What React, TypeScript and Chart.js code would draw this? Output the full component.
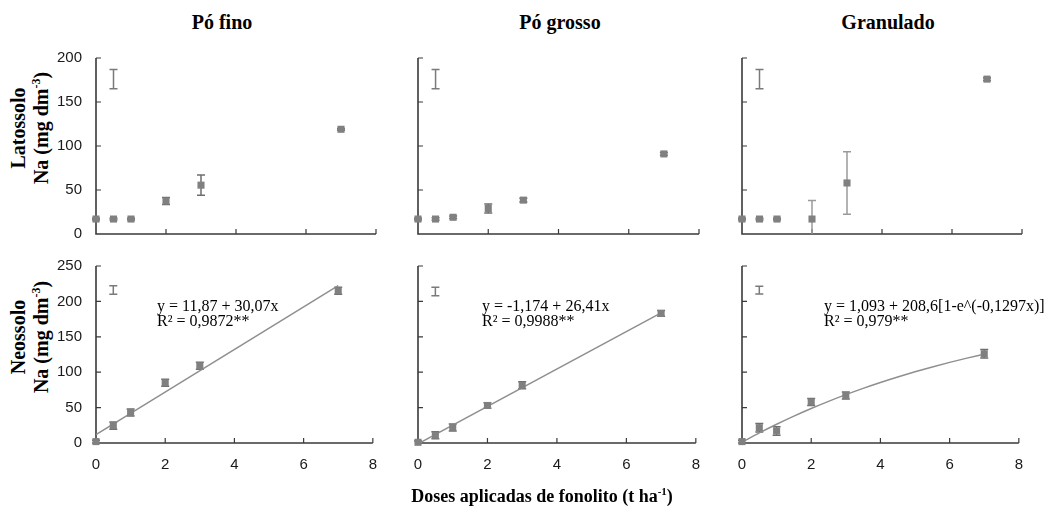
import React, { useEffect, useRef } from "react";
import { Chart, registerables } from "chart.js";
Chart.register(...registerables);

// ---------- data ----------
const doses = [0, 0.5, 1, 2, 3, 7];
const columnTitles = ["Pó fino", "Pó grosso", "Granulado"];

const latPoFino = [17, 17, 17, 37.5, 55.5, 119];
const latPoFinoErr = [1, 1, 1, 4, 11.5, 1];
const latPoGrosso = [17, 17, 19, 29, 38.5, 91];
const latPoGrossoErr = [1, 1.5, 1.5, 5, 2, 1.5];
const latGranulado = [17, 17, 17, 17, 58, 176];
const latGranuladoErr = [1, 1, 1, 21, 35.5, 1.5];

const neoPoFino = [2, 24.5, 43, 85, 109, 215];
const neoPoFinoErr = [2, 5, 5, 5, 5, 5];
const neoPoGrosso = [1, 11, 22, 53, 81.5, 183];
const neoPoGrossoErr = [2, 5, 5, 4, 5, 4];
const neoGranulado = [2, 21.6, 17, 58, 67, 126];
const neoGranuladoErr = [2, 6, 6, 5, 5, 6];

// least significant difference bars (drawn at x = 0.5)
const lsdX = 0.5;
const lsdLat = [176, 176, 176];
const lsdLatHalf = [11, 11, 11];
const lsdNeo = [216, 214, 216];
const lsdNeoHalf = [6, 6, 5.5];

// fitted curves (read from the equations shown)
const fitPoFinoX = [0, 7];
const fitPoFinoY = [11.87, 222.36];
const fitPoGrossoX = [0, 7];
const fitPoGrossoY = [-1.17, 183.7];
const fitGranX = [0, 0.5, 1, 1.5, 2, 2.5, 3, 3.5, 4, 4.5, 5, 5.5, 6, 6.5, 7];
const fitGranY = [1.09, 14.19, 26.47, 37.97, 48.75, 58.86, 68.32, 77.21, 85.52, 93.32, 100.64, 107.48, 113.9, 119.91, 125.55];

const equations = [
  ["y = 11,87 + 30,07x", "R² = 0,9872**"],
  ["y = -1,174 + 26,41x", "R² = 0,9988**"],
  ["y = 1,093 + 208,6[1-e^(-0,1297x)]", "R² = 0,979**"],
];

const xMin = 0;
const xMax = 8;
const xStep = 2;
const latYMax = 200;
const neoYMax = 250;
const yStep = 50;

// ---------- layout ----------
const colLeft = [96, 418, 742];
const colRight = [376, 699, 1022];
const rowTop = [58, 266];
const rowBottom = [234, 443];
const padL = 62;
const padT = 30;
const padR = 14;

type PanelProps = {
  row: number;
  col: number;
  values: number[];
  errors: number[];
  lsdCenter: number;
  lsdHalf: number;
  fitX?: number[];
  fitY?: number[];
  smooth?: boolean;
};

function Panel(p: PanelProps) {
  const ref = useRef<HTMLCanvasElement | null>(null);
  const padB = p.row === 1 ? 40 : 30;
  const L = colLeft[p.col];
  const R = colRight[p.col];
  const T = rowTop[p.row];
  const B = rowBottom[p.row];
  const width = R - L + padL + padR;
  const height = B - T + padT + padB;

  useEffect(() => {
    if (!ref.current) return;
    const yMax = p.row === 0 ? latYMax : neoYMax;
    const axisPlugin = {
      id: "axesAndErrors",
      beforeDatasetsDraw(chart: any) {
        const ctx = chart.ctx;
        const xs = chart.scales.x;
        const ys = chart.scales.y;
        const x0 = xs.getPixelForValue(xMin);
        const x1 = xs.getPixelForValue(xMax);
        const y0 = ys.getPixelForValue(0);
        const y1 = ys.getPixelForValue(yMax);
        ctx.save();
        ctx.strokeStyle = "#3a3a3a";
        ctx.lineWidth = 1.6;
        ctx.beginPath();
        ctx.moveTo(x0, y1);
        ctx.lineTo(x0, y0);
        ctx.lineTo(x1, y0);
        ctx.stroke();
        ctx.lineWidth = 1.2;
        ctx.beginPath();
        ys.ticks.forEach((t: any) => {
          if (t.value <= 0) return;
          const py = ys.getPixelForValue(t.value);
          ctx.moveTo(x0, py);
          ctx.lineTo(x0 + 5, py);
        });
        xs.ticks.forEach((t: any) => {
          if (t.value <= 0) return;
          const px = xs.getPixelForValue(t.value);
          ctx.moveTo(px, y0);
          ctx.lineTo(px, y0 - 5);
        });
        ctx.stroke();

        const drawBar = (xv: number, lo: number, hi: number, color: string) => {
          const px = xs.getPixelForValue(xv);
          const pLo = ys.getPixelForValue(Math.max(lo, 0));
          const pHi = ys.getPixelForValue(hi);
          ctx.strokeStyle = color;
          ctx.lineWidth = 1.5;
          ctx.beginPath();
          ctx.moveTo(px, pLo);
          ctx.lineTo(px, pHi);
          ctx.moveTo(px - 4, pHi);
          ctx.lineTo(px + 4, pHi);
          if (lo >= 0) {
            ctx.moveTo(px - 4, pLo);
            ctx.lineTo(px + 4, pLo);
          }
          ctx.stroke();
        };
        drawBar(lsdX, p.lsdCenter - p.lsdHalf, p.lsdCenter + p.lsdHalf, "#7a7a7a");
        doses.forEach((d, i) => {
          const e = p.errors[i];
          const color = e > 15 ? "#9a9a9a" : "#6e6e6e";
          drawBar(d, p.values[i] - e, p.values[i] + e, color);
        });
        ctx.restore();
      },
    };

    const datasets: any[] = [
      {
        label: "pts",
        data: doses.map((d, i) => ({ x: d, y: p.values[i] })),
        pointStyle: "rect",
        pointRadius: 5,
        backgroundColor: "#808080",
        borderColor: "#808080",
        borderWidth: 0,
        showLine: false,
        clip: false,
      },
    ];
    if (p.fitX && p.fitY) {
      datasets.push({
        label: "fit",
        data: p.fitX.map((x, i) => ({ x, y: p.fitY![i] })),
        showLine: true,
        pointRadius: 0,
        borderColor: "#8f8f8f",
        borderWidth: 1.5,
        tension: p.smooth ? 0.4 : 0,
        cubicInterpolationMode: p.smooth ? "monotone" : "default",
        fill: false,
      });
    }

    const chart = new Chart(ref.current, {
      type: "scatter",
      data: { datasets },
      options: {
        animation: false,
        responsive: false,
        devicePixelRatio: 1,
        layout: { padding: { left: 0, top: padT, right: padR, bottom: 0 } },
        plugins: { legend: { display: false }, tooltip: { enabled: false } },
        scales: {
          x: {
            type: "linear",
            min: xMin,
            max: xMax,
            ticks: {
              stepSize: xStep,
              display: p.row === 1,
              padding: 13,
              color: "#1a1a1a",
              font: { family: "Liberation Sans", size: 15 },
            },
            grid: { display: false, drawTicks: false },
            border: { display: false },
            afterFit: (s: any) => {
              s.height = padB;
            },
          },
          y: {
            type: "linear",
            min: 0,
            max: yMax,
            ticks: {
              stepSize: yStep,
              display: p.col === 0,
              padding: 14,
              color: "#1a1a1a",
              font: { family: "Liberation Sans", size: 15 },
            },
            grid: { display: false, drawTicks: false },
            border: { display: false },
            afterFit: (s: any) => {
              s.width = padL;
            },
          },
        },
      } as any,
      plugins: [axisPlugin],
    });
    return () => chart.destroy();
  }, []);

  return (
    <canvas
      ref={ref}
      width={width}
      height={height}
      style={{ position: "absolute", left: L - padL, top: T - padT, width, height }}
    />
  );
}

const serif = '"Liberation Serif", "Times New Roman", serif';

export default function App() {
  const titleCenters = [222, 560, 888];
  const eqLeft = [157, 482, 824];
  return (
    <div
      style={{
        position: "fixed",
        left: 0,
        top: 0,
        width: 1056,
        height: 510,
        background: "#fff",
        overflow: "hidden",
      }}
    >
      {columnTitles.map((t, i) => (
        <div
          key={t}
          style={{
            position: "absolute",
            left: titleCenters[i],
            top: 22,
            transform: "translate(-50%, -50%)",
            fontFamily: serif,
            fontWeight: "bold",
            fontSize: 20,
            whiteSpace: "nowrap",
            color: "#000",
          }}
        >
          {t}
        </div>
      ))}

      {[
        { name: "Latossolo", cy: 128 },
        { name: "Neossolo", cy: 337 },
      ].map((r) => (
        <div
          key={r.name}
          style={{
            position: "absolute",
            left: 31,
            top: r.cy,
            transform: "translate(-50%, -50%) rotate(-90deg)",
            fontFamily: serif,
            fontWeight: "bold",
            fontSize: 20,
            lineHeight: "23px",
            textAlign: "center",
            whiteSpace: "nowrap",
            color: "#000",
          }}
        >
          <div>{r.name}</div>
          <div>
            Na (mg dm
            <span style={{ fontSize: 12, position: "relative", top: -8 }}>-3</span>)
          </div>
        </div>
      ))}

      <Panel row={0} col={0} values={latPoFino} errors={latPoFinoErr} lsdCenter={lsdLat[0]} lsdHalf={lsdLatHalf[0]} />
      <Panel row={0} col={1} values={latPoGrosso} errors={latPoGrossoErr} lsdCenter={lsdLat[1]} lsdHalf={lsdLatHalf[1]} />
      <Panel row={0} col={2} values={latGranulado} errors={latGranuladoErr} lsdCenter={lsdLat[2]} lsdHalf={lsdLatHalf[2]} />
      <Panel row={1} col={0} values={neoPoFino} errors={neoPoFinoErr} lsdCenter={lsdNeo[0]} lsdHalf={lsdNeoHalf[0]} fitX={fitPoFinoX} fitY={fitPoFinoY} />
      <Panel row={1} col={1} values={neoPoGrosso} errors={neoPoGrossoErr} lsdCenter={lsdNeo[1]} lsdHalf={lsdNeoHalf[1]} fitX={fitPoGrossoX} fitY={fitPoGrossoY} />
      <Panel row={1} col={2} values={neoGranulado} errors={neoGranuladoErr} lsdCenter={lsdNeo[2]} lsdHalf={lsdNeoHalf[2]} fitX={fitGranX} fitY={fitGranY} smooth />

      {equations.map((eq, i) => (
        <div
          key={i}
          style={{
            position: "absolute",
            left: eqLeft[i],
            top: 298,
            fontFamily: serif,
            fontSize: 16,
            lineHeight: "15px",
            whiteSpace: "nowrap",
            color: "#000",
          }}
        >
          <div>{eq[0]}</div>
          <div>{eq[1]}</div>
        </div>
      ))}

      <div
        style={{
          position: "absolute",
          left: 542,
          top: 496,
          transform: "translate(-50%, -50%)",
          fontFamily: serif,
          fontWeight: "bold",
          fontSize: 18,
          whiteSpace: "nowrap",
          color: "#000",
        }}
      >
        Doses aplicadas de fonolito (t ha
        <span style={{ fontSize: 11, position: "relative", top: -7 }}>-1</span>)
      </div>
    </div>
  );
}
